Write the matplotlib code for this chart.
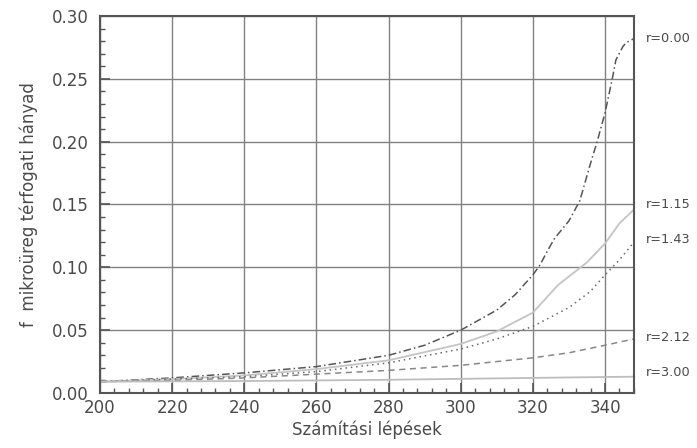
import numpy as np
import matplotlib
matplotlib.use("Agg")
import matplotlib.pyplot as plt
from matplotlib.ticker import MultipleLocator

# =====================================
# Datos
# =====================================
lepes_r000 = [200, 220, 240, 260, 280, 290, 300, 310, 315, 320, 322, 324,
              326, 330, 333, 336, 338, 340, 342, 343, 345, 346, 348]
f_r000 = [0.009, 0.012, 0.016, 0.021, 0.030, 0.038, 0.050, 0.066, 0.078,
          0.094, 0.102, 0.113, 0.123, 0.137, 0.153, 0.183, 0.202, 0.223,
          0.250, 0.265, 0.276, 0.279, 0.282]

lepes_r115 = [200, 220, 240, 260, 280, 300, 310, 320, 327, 335, 340, 344, 348]
f_r115 = [0.009, 0.011, 0.014, 0.019, 0.026, 0.039, 0.049, 0.064, 0.086,
          0.104, 0.119, 0.135, 0.146]

lepes_r143 = [200, 220, 240, 260, 280, 300, 310, 320, 330, 336, 340, 344, 348]
f_r143 = [0.009, 0.011, 0.013, 0.017, 0.024, 0.035, 0.043, 0.053, 0.068,
          0.081, 0.094, 0.106, 0.120]

lepes_r212 = [200, 220, 240, 260, 280, 300, 320, 330, 340, 348]
f_r212 = [0.009, 0.010, 0.012, 0.015, 0.018, 0.022, 0.028, 0.032, 0.038, 0.043]

lepes_r300 = [200, 240, 280, 320, 348]
f_r300 = [0.009, 0.0095, 0.0105, 0.012, 0.013]

cimkek = ["r=0.00", "r=1.15", "r=1.43", "r=2.12", "r=3.00"]
cimke_y = [0.282, 0.150, 0.122, 0.044, 0.016]

# =====================================
# Dibujo
# =====================================
SZOVEG = '#4a4a4a'
plt.rcParams['font.family'] = ['DejaVu Sans']

fig = plt.figure(figsize=(6.97, 4.48), dpi=100)
ax = fig.add_axes([0.1435, 0.1228, 0.766, 0.8415])

ax.plot(lepes_r000, f_r000, color='#555555', lw=1.1, ls=(0, (5, 2, 1, 2)))
ax.plot(lepes_r115, f_r115, color='#c4c4c4', lw=1.3, ls='-')
ax.plot(lepes_r143, f_r143, color='#6a6a6a', lw=1.1, ls=(0, (1, 2.5)))
ax.plot(lepes_r212, f_r212, color='#888888', lw=1.1, ls=(0, (4, 3)))
ax.plot(lepes_r300, f_r300, color='#bdbdbd', lw=1.3, ls='-')

ax.set_xlim(200, 348)
ax.set_ylim(0, 0.30)
ax.xaxis.set_major_locator(MultipleLocator(20))
ax.xaxis.set_minor_locator(MultipleLocator(4))
ax.yaxis.set_major_locator(MultipleLocator(0.05))
ax.yaxis.set_minor_locator(MultipleLocator(0.01))
ax.yaxis.set_major_formatter(plt.FuncFormatter(lambda v, p: f"{v:.2f}"))

ax.grid(True, which='major', color='#828282', lw=1.0)
ax.tick_params(which='both', direction='in', colors='#555555',
               labelcolor=SZOVEG, labelsize=12)
ax.tick_params(which='major', length=7, width=1.2)
ax.tick_params(which='minor', length=3.5, width=1.0)
ax.tick_params(axis='y', which='major', pad=8)
ax.tick_params(axis='x', which='major', pad=4)
for sp in ax.spines.values():
    sp.set_color('#555555')
    sp.set_linewidth(1.5)

for txt, yv in zip(cimkek, cimke_y):
    ax.text(1.022, yv, txt, transform=ax.get_yaxis_transform(),
            fontsize=9.3, color=SZOVEG, va='center', ha='left')

ax.set_xlabel('Számítási lépések', fontsize=12, color=SZOVEG, labelpad=3)
ax.set_ylabel('f  mikroüreg térfogati hányad', fontsize=12, color=SZOVEG,
              labelpad=10)

plt.savefig('out.png', dpi=100)
